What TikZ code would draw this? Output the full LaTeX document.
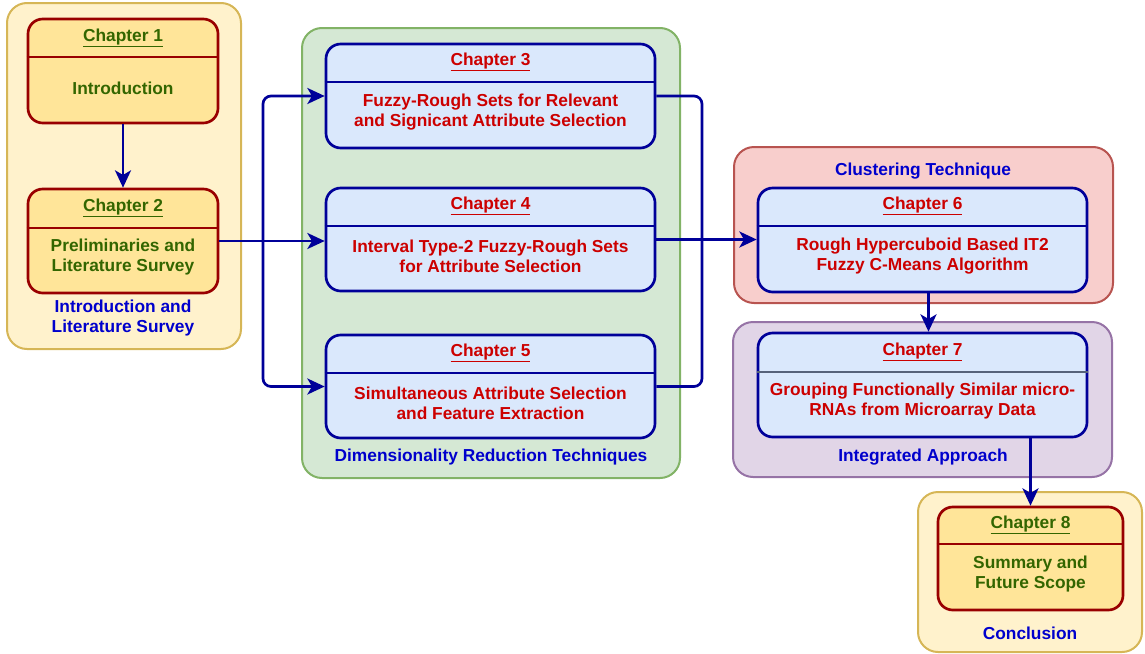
\documentclass[tikz,border=0pt]{standalone}
\usepackage{fontspec}
\setmainfont{Liberation Sans}
\usetikzlibrary{positioning,fit,calc,arrows.meta}

\definecolor{grpyfill}{HTML}{FFF2CC}
\definecolor{grpydraw}{HTML}{D6B656}
\definecolor{grpgfill}{HTML}{D5E8D4}
\definecolor{grpgdraw}{HTML}{82B366}
\definecolor{grprfill}{HTML}{F8CECC}
\definecolor{grprdraw}{HTML}{B85450}
\definecolor{grppfill}{HTML}{E1D5E7}
\definecolor{grppdraw}{HTML}{9673A6}
\definecolor{chyfill}{HTML}{FFE599}
\definecolor{chydraw}{HTML}{990000}
\definecolor{chbfill}{HTML}{DAE8FC}
\definecolor{chbdraw}{HTML}{000099}
\definecolor{divgrey}{HTML}{56627A}
\definecolor{txtgreen}{HTML}{336600}
\definecolor{txtred}{HTML}{CC0000}
\definecolor{txtblue}{HTML}{0000CC}

\begin{document}
\begin{tikzpicture}[
    x=0.75pt, y=-0.75pt,
    every node/.style={font=\fontsize{13}{15}\selectfont\bfseries, align=center},
    group/.style={
        rectangle, rounded corners=15pt, line width=1.5pt, inner sep=0pt
    },
    grpyellow/.style={group, fill=grpyfill, draw=grpydraw},
    grpgreen/.style={group, fill=grpgfill, draw=grpgdraw},
    grpred/.style={group, fill=grprfill, draw=grprdraw},
    grppurple/.style={group, fill=grppfill, draw=grppdraw},
    chapter/.style={
        rectangle, rounded corners=11pt, line width=2pt, inner sep=0pt
    },
    chapyellow/.style={chapter, fill=chyfill, draw=chydraw},
    chapblue/.style={chapter, fill=chbfill, draw=chbdraw},
    ydiv/.style={draw=chydraw, line width=2pt},
    bdiv/.style={draw=chbdraw, line width=2pt},
    greentext/.style={text=txtgreen},
    redtext/.style={text=txtred},
    grouptext/.style={text=txtblue},
    conn/.style={draw=chbdraw, line width=2pt, rounded corners=6pt},
    arr/.style={conn, -{Stealth[length=13pt, width=12pt, inset=3.5pt]}}
]
    \useasboundingbox (0,0) rectangle (1145,653);

    % groups
    \node (g1) [grpyellow, fit={(7,3) (241,349)}] {};
    \node (g2) [grpgreen, fit={(302,28) (680,478)}] {};
    \node (g3) [grpred, fit={(734,147) (1113,303)}] {};
    \node (g4) [grppurple, fit={(733,322) (1112,477)}] {};
    \node (g5) [grpyellow, fit={(918,492) (1142,652)}] {};

    \node (g1t) [grouptext] at (123,318) {Introduction and\\Literature Survey};
    \node (g2t) [grouptext] at (491,457) {Dimensionality Reduction Techniques};
    \node (g3t) [grouptext] at (923,171) {Clustering Technique};
    \node (g4t) [grouptext] at (923,457) {Integrated Approach};
    \node (g5t) [grouptext] at (1030,633) {Conclusion};

    % chapters
    \node (c1) [chapyellow, fit={(28,19) (218,123)}] {};
    \node (c2) [chapyellow, fit={(28,189) (218,293)}] {};
    \node (c3) [chapblue, fit={(326,44) (655,148)}] {};
    \node (c4) [chapblue, fit={(326,188) (655,291)}] {};
    \node (c5) [chapblue, fit={(326,335) (655,438)}] {};
    \node (c6) [chapblue, fit={(758,188) (1087,292)}] {};
    \node (c7) [chapblue, fit={(758,333) (1087,437)}] {};
    \node (c8) [chapyellow, fit={(938,507) (1123,610)}] {};

    \draw [ydiv] (c1.west |- 0,57) -- (c1.east |- 0,57);
    \draw [ydiv] (c2.west |- 0,228) -- (c2.east |- 0,228);
    \draw [bdiv] (c3.west |- 0,82) -- (c3.east |- 0,82);
    \draw [bdiv] (c4.west |- 0,226) -- (c4.east |- 0,226);
    \draw [bdiv] (c5.west |- 0,373) -- (c5.east |- 0,373);
    \draw [bdiv] (c6.west |- 0,226) -- (c6.east |- 0,226);
    \draw [bdiv, draw=divgrey] (c7.west |- 0,372) -- (c7.east |- 0,372);
    \draw [ydiv] (c8.west |- 0,544) -- (c8.east |- 0,544);

    \node (c1h) [greentext] at (c1.center |- 0,38) {\underline{Chapter 1}};
    \node (c1b) [greentext] at (c1.center |- 0,88) {Introduction};
    \node (c2h) [greentext] at (c2.center |- 0,208) {\underline{Chapter 2}};
    \node (c2b) [greentext] at (c2.center |- 0,257) {Preliminaries and\\Literature Survey};
    \node (c3h) [redtext] at (c3.center |- 0,62) {\underline{Chapter 3}};
    \node (c3b) [redtext] at (c3.center |- 0,112) {Fuzzy-Rough Sets for Relevant\\and Signicant Attribute Selection};
    \node (c4h) [redtext] at (c4.center |- 0,206) {\underline{Chapter 4}};
    \node (c4b) [redtext] at (c4.center |- 0,256) {Interval Type-2 Fuzzy-Rough Sets\\for Attribute Selection};
    \node (c5h) [redtext] at (c5.center |- 0,353) {\underline{Chapter 5}};
    \node (c5b) [redtext] at (c5.center |- 0,403) {Simultaneous Attribute Selection\\and Feature Extraction};
    \node (c6h) [redtext] at (c6.center |- 0,206) {\underline{Chapter 6}};
    \node (c6b) [redtext] at (c6.center |- 0,256) {Rough Hypercuboid Based IT2\\Fuzzy C-Means Algorithm};
    \node (c7h) [redtext] at (c7.center |- 0,352) {\underline{Chapter 7}};
    \node (c7b) [redtext] at (c7.center |- 0,401) {Grouping Functionally Similar micro-\\RNAs from Microarray Data};
    \node (c8h) [greentext] at (c8.center |- 0,525) {\underline{Chapter 8}};
    \node (c8b) [greentext] at (c8.center |- 0,574) {Summary and\\Future Scope};

    % connectors
    \coordinate (split) at (c2.east -| 263,0);
    \coordinate (join) at (c4.east -| 702,0);
    \coordinate (c6out) at ($(c6.south)+(6,0)$);

    \draw [arr] (c1) -- (c2);
    \draw [arr] (c2.east) -- (c2.east -| c4.west);
    \draw [arr] (split) |- (c3.west);
    \draw [arr] (split) |- (c5.west);

    \draw [conn] (c3.east) -| (join);
    \draw [conn] (c5.east) -| (join);
    \draw [arr] (c4.east) -- (c4.east -| c6.west);

    \draw [arr] (c6out) -- (c6out |- c7.north);
    \draw [arr] (c7.south -| c8.north) -- (c8.north);
\end{tikzpicture}
\end{document}
